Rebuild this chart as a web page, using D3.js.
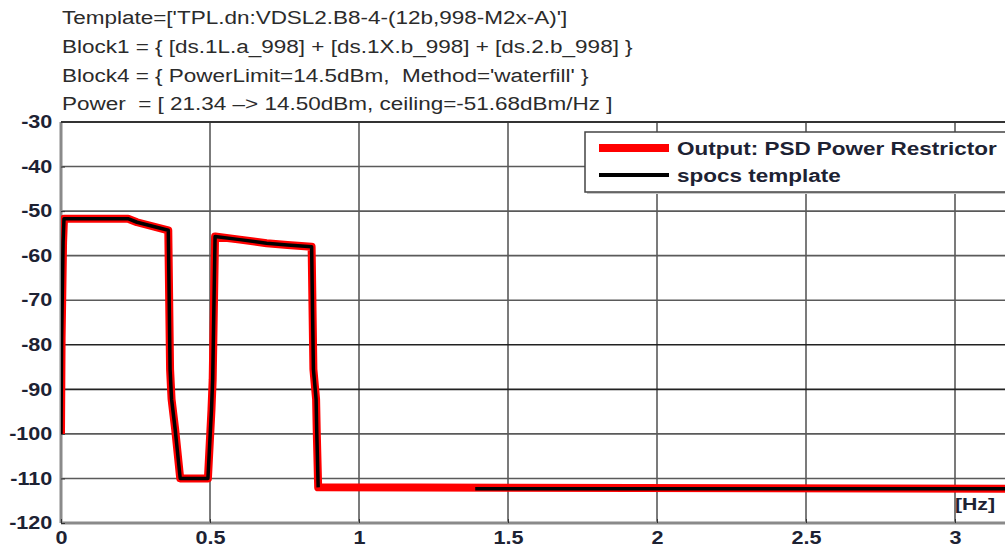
<!DOCTYPE html>
<html>
<head>
<meta charset="utf-8">
<script src="https://cdn.jsdelivr.net/npm/d3@7"></script>
<style>
  body { margin: 0; background: #fff; }
  svg { display: block; }
  .title { font-family: Arial, 'Liberation Sans', sans-serif; font-size: 18px; fill: #2b2b2b; }
  .tick-label { font-family: Arial, 'Liberation Sans', sans-serif; font-size: 18px; font-weight: bold; fill: #1d2233; }
  .legend-text { font-family: Arial, 'Liberation Sans', sans-serif; font-size: 18px; font-weight: bold; fill: #1d2233; }
</style>
</head>
<body>
<div id="main"></div>
<script>
// title lines above the plot
const titleLines = [
  "Template=['TPL.dn:VDSL2.B8-4-(12b,998-M2x-A)']",
  'Block1 = { [ds.1L.a_998] + [ds.1X.b_998] + [ds.2.b_998] }',
  "Block4 = { PowerLimit=14.5dBm,  Method='waterfill' }",
  'Power  = [ 21.34 \u2013> 14.50dBm, ceiling=-51.68dBm/Hz ]'
]

const xTicks = [0, 0.5, 1, 1.5, 2, 2.5, 3]
const yTicks = [-120, -110, -100, -90, -80, -70, -60, -50, -40, -30]
const seriesNames = ['Output: PSD Power Restrictor', 'spocs template']

// frequency (Hz) and PSD (dBm/Hz) of the restricted output
const outFreq = [0, 0.002, 0.007, 0.01, 0.225, 0.255, 0.36, 0.366, 0.371, 0.383, 0.4, 0.493, 0.505, 0.509, 0.517, 0.6, 0.69, 0.76, 0.841, 0.847, 0.856, 0.858, 0.863, 3.2]
const outPsd = [-100, -78.5, -57, -51.7, -51.7, -52.5, -54.3, -85.5, -92.2, -98.9, -110, -110, -94.5, -87.8, -55.7, -56.4, -57.2, -57.6, -58, -85.5, -92.2, -98.9, -112, -112.3]

// template follows the same mask, no value between 0.863 and 1.39
const tplFreq = [0, 0.002, 0.007, 0.01, 0.225, 0.255, 0.36, 0.366, 0.371, 0.383, 0.4, 0.493, 0.505, 0.509, 0.517, 0.6, 0.69, 0.76, 0.841, 0.847, 0.856, 0.858, 0.863, 1.1, 1.39, 3.2]
const tplPsd = [-100, -78.5, -57, -51.7, -51.7, -52.5, -54.3, -85.5, -92.2, -98.9, -110, -110, -94.5, -87.8, -55.7, -56.4, -57.2, -57.6, -58, -85.5, -92.2, -98.9, -112, null, -112.3, -112.3]

const width = 1005
const height = 548
const plotLeft = 61
const plotTop = 122
const plotBottom = 523
// the picture is stretched sideways, text too
const stretch = 1.25

const x = d3.scaleLinear().domain([0, 3.2]).range([plotLeft, plotLeft + 298 * 3.2])
const y = d3.scaleLinear().domain([-120, -30]).range([plotBottom, plotTop])

const svg = d3.select('#main')
  .append('svg')
  .attr('width', width)
  .attr('height', height)

svg.append('defs')
  .append('clipPath')
  .attr('id', 'plot-clip')
  .append('rect')
  .attr('x', plotLeft)
  .attr('y', plotTop - 6)
  .attr('width', width - plotLeft)
  .attr('height', plotBottom - plotTop + 12)

// title
svg.selectAll('text.title')
  .data(titleLines)
  .enter()
  .append('text')
  .attr('class', 'title')
  .attr('transform', (d, i) => `translate(62,${24 + i * 28.8}) scale(${stretch},1)`)
  .style('white-space', 'pre')
  .text((d) => d)

// grid
svg.append('g')
  .selectAll('line')
  .data(xTicks.slice(1))
  .enter()
  .append('line')
  .attr('x1', (d) => x(d))
  .attr('x2', (d) => x(d))
  .attr('y1', plotTop)
  .attr('y2', plotBottom)
  .style('stroke', '#5a5a5a')
  .style('stroke-width', 1.6)

svg.append('g')
  .selectAll('line')
  .data(yTicks.slice(1, -1))
  .enter()
  .append('line')
  .attr('x1', plotLeft)
  .attr('x2', width)
  .attr('y1', (d) => y(d))
  .attr('y2', (d) => y(d))
  .style('stroke', (d) => (d === -80 || d === -90 ? '#222' : '#5a5a5a'))
  .style('stroke-width', 1.6)

// frame
svg.append('line')
  .attr('x1', plotLeft).attr('x2', width)
  .attr('y1', plotTop).attr('y2', plotTop)
  .style('stroke', '#333').style('stroke-width', 2)
svg.append('line')
  .attr('x1', plotLeft).attr('x2', width)
  .attr('y1', plotBottom).attr('y2', plotBottom)
  .style('stroke', '#8a8a8a').style('stroke-width', 3)
svg.append('line')
  .attr('x1', plotLeft).attr('x2', plotLeft)
  .attr('y1', plotTop).attr('y2', plotBottom)
  .style('stroke', '#8a8a8a').style('stroke-width', 3)

// axes (labels + small inner ticks)
const yAxis = svg.append('g')
  .attr('transform', `translate(${plotLeft},0)`)
  .call(d3.axisLeft(y).tickValues(yTicks).tickSize(-4).tickPadding(7.2).tickFormat((d) => String(d)))
yAxis.select('.domain').remove()
yAxis.selectAll('line').style('stroke', '#333')
yAxis.selectAll('text')
  .attr('class', 'tick-label')
  .attr('transform', 'scale(1.2,1)')
yAxis.attr('font-size', null).attr('font-family', null)

const xAxis = svg.append('g')
  .attr('transform', `translate(0,${plotBottom})`)
  .call(d3.axisBottom(x).tickValues(xTicks).tickSize(-4).tickPadding(8).tickFormat((d) => String(d)))
xAxis.select('.domain').remove()
xAxis.selectAll('line').style('stroke', '#333')
xAxis.selectAll('text')
  .attr('class', 'tick-label')
  .attr('transform', 'scale(1.2,1)')
xAxis.attr('font-size', null).attr('font-family', null)

svg.append('text')
  .attr('class', 'tick-label')
  .attr('transform', `translate(995,510) scale(${stretch},1)`)
  .attr('text-anchor', 'end')
  .style('font-size', '17px')
  .text('[Hz]')

// curves
const outData = outFreq.map((f, i) => ({ f, v: outPsd[i] }))
const tplData = tplFreq.map((f, i) => ({ f, v: tplPsd[i] }))

const line = d3.line()
  .defined((d) => d.v !== null)
  .x((d) => x(d.f))
  .y((d) => y(d.v))

const curves = svg.append('g').attr('clip-path', 'url(#plot-clip)')

curves.append('path')
  .datum(outData)
  .attr('d', line)
  .style('fill', 'none')
  .style('stroke', '#ff0000')
  .style('stroke-width', 8)
  .style('stroke-linejoin', 'round')

curves.append('path')
  .datum(tplData)
  .attr('d', line)
  .style('fill', 'none')
  .style('stroke', '#000')
  .style('stroke-width', 3.5)
  .style('stroke-linejoin', 'round')

// legend
const legend = svg.append('g')
legend.append('rect')
  .attr('x', 587)
  .attr('y', 134)
  .attr('width', 430)
  .attr('height', 60)
  .style('fill', '#c8c8c8')
legend.append('rect')
  .attr('x', 585)
  .attr('y', 132)
  .attr('width', 430)
  .attr('height', 60)
  .style('fill', '#fff')
  .style('stroke', '#444')
  .style('stroke-width', 1.5)

const legendColors = ['#ff0000', '#000']
const legendWidths = [8, 4]
seriesNames.forEach((name, i) => {
  const ly = 148 + i * 27
  legend.append('line')
    .attr('x1', 599).attr('x2', 669)
    .attr('y1', ly).attr('y2', ly)
    .style('stroke', legendColors[i])
    .style('stroke-width', legendWidths[i])
  legend.append('text')
    .attr('class', 'legend-text')
    .attr('transform', `translate(677,${ly + 6.5}) scale(${stretch},1)`)
    .text(name)
})
</script>
</body>
</html>
